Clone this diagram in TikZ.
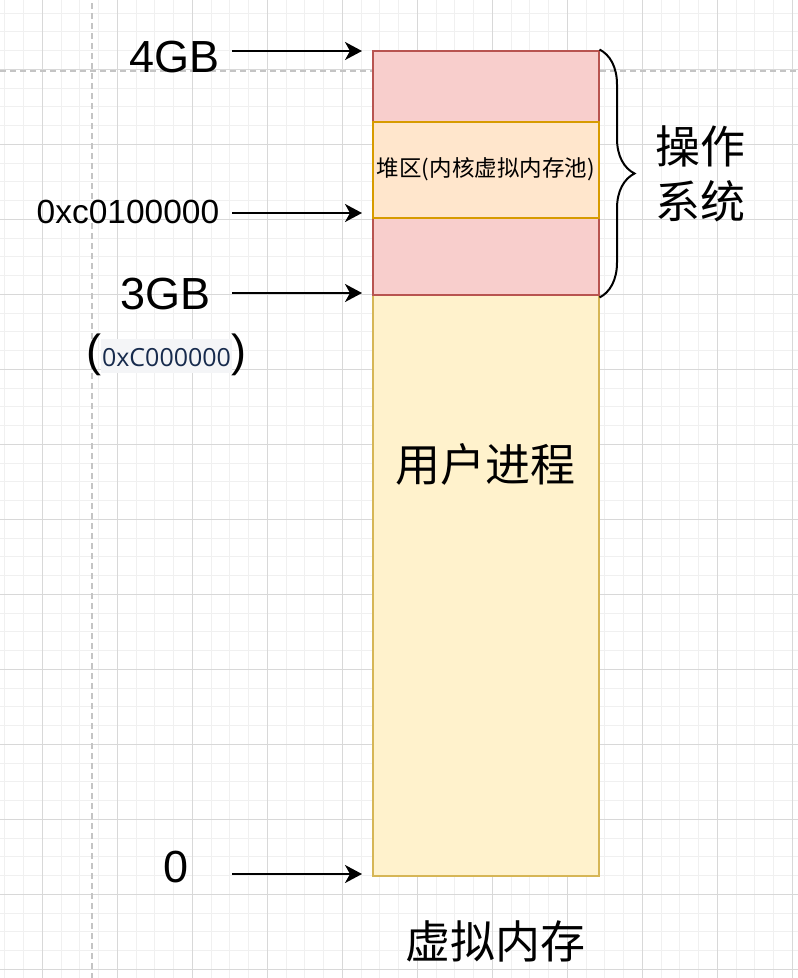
\documentclass[tikz,border=0pt]{standalone}
\usepackage{fontspec}
\setmainfont{Liberation Sans}
\newfontfamily\cjkfont{Noto Sans CJK SC}
\newfontfamily\codefont{Open Sans}
\usetikzlibrary{arrows.meta,decorations.pathreplacing}

\definecolor{osfill}{HTML}{F8CECC}
\definecolor{osline}{HTML}{B85450}
\definecolor{heapfill}{HTML}{FFE6CC}
\definecolor{heapline}{HTML}{D79B00}
\definecolor{userfill}{HTML}{FFF2CC}
\definecolor{userline}{HTML}{D6B656}
\definecolor{gridminor}{HTML}{F0F0F0}
\definecolor{gridmajor}{HTML}{D8D8D8}
\definecolor{pageline}{HTML}{C4C4C4}
\definecolor{codebg}{HTML}{F4F5F7}
\definecolor{codetext}{HTML}{172B4D}

\begin{document}
\begin{tikzpicture}[x=1pt,y=-1pt]
	\tikzset{
		block/.style={draw,line width=2pt,minimum width=225.5pt,inner sep=0pt},
		osblock/.style={block,fill=osfill,draw=osline},
		heapblock/.style={block,fill=heapfill,draw=heapline},
		userblock/.style={block,fill=userfill,draw=userline},
		addr/.style={font=\fontsize{45}{54}\selectfont,anchor=base,inner sep=0pt},
		cjkbig/.style={font=\cjkfont\fontsize{45}{55}\selectfont,inner sep=0pt},
		ptr/.style={-{Stealth[length=17pt,width=18pt,inset=5pt]},line width=2pt,shorten >=10pt},
		osbrace/.style={decorate,decoration={brace,amplitude=35pt},line width=2pt},
		minorgrid/.style={draw=gridminor,line width=1pt},
		majorgrid/.style={draw=gridmajor,line width=1pt},
		pagebreak/.style={draw=pageline,line width=1.5pt,dash pattern=on 6pt off 4pt}
	}
	\useasboundingbox (0,0) rectangle (798,978);

	%% Draw background grid
	\foreach \gx in {4.8,23.55,...,798}
		\draw[minorgrid] (\gx,0) -- (\gx,978);
	\foreach \gy in {13.05,31.8,...,978}
		\draw[minorgrid] (0,\gy) -- (798,\gy);
	\foreach \gx in {42.3,117.3,...,798}
		\draw[majorgrid] (\gx,0) -- (\gx,978);
	\foreach \gy in {69.3,144.3,...,978}
		\draw[majorgrid] (0,\gy) -- (798,\gy);
	\draw[pagebreak] (92,3) -- (92,978);
	\draw[pagebreak] (0,71) -- (798,71);

	%% Draw memory blocks
	\node[userblock,minimum height=581pt] (user) at (485.75,585) {};
	\node[osblock,minimum height=71pt] (os1) at (485.75,86) {};
	\node[osblock,minimum height=77pt] (os2) at (485.75,256) {};
	\node[heapblock,minimum height=96pt,font=\cjkfont\fontsize{22.5}{27}\selectfont] (heap) at (485.75,169.5) {堆区(内核虚拟内存池)};
	\node[cjkbig] (usertext) at (485,464) {用户进程};
	\node[cjkbig] (title) at (495,941.5) {虚拟内存};

	%% Operating system brace
	\draw[osbrace] (os1.north east) -- ([yshift=-2pt]os2.south east);
	\node[cjkbig,align=center] (ostext) at (700.5,173.5) {操作\\系统};

	%% Address labels
	\node[addr] (l4gb) at (174.5,72) {4GB};
	\node[addr,font=\fontsize{33.5}{40}\selectfont] (lheap) at (128,223) {0xc0100000};
	\node[addr] (l3gb) at (165.5,309) {3GB};
	\node[addr] (l3hex) at (166.5,366) {({\codefont\fontsize{25}{29}\selectfont\setlength{\fboxsep}{1pt}\colorbox{codebg}{\color{codetext}\rule[-6pt]{0pt}{32pt}0xC000000}})};
	\node[addr] (l0) at (176,882) {0};

	\coordinate (t4gb) at (232,51);
	\coordinate (theap) at (232,213);
	\coordinate (t3gb) at (232,293);
	\coordinate (t0) at (232,874);
	\draw[ptr] (t4gb) -- (t4gb -| os1.west);
	\draw[ptr] (theap) -- (theap -| heap.west);
	\draw[ptr] (t3gb) -- (t3gb -| os2.west);
	\draw[ptr] (t0) -- (t0 -| user.west);
\end{tikzpicture}
\end{document}
